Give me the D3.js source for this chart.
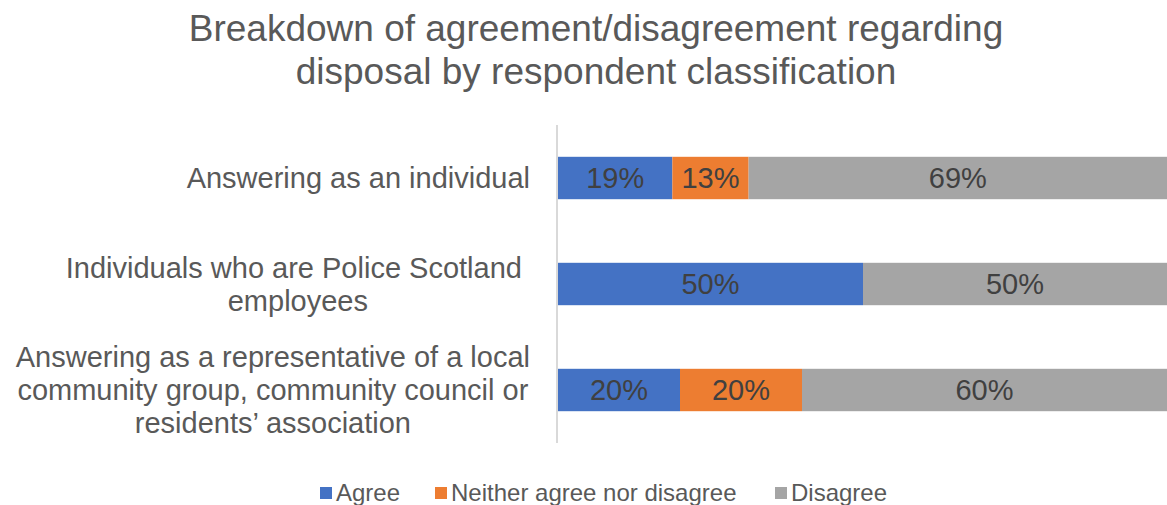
<!DOCTYPE html>
<html>
<head>
<meta charset="utf-8">
<script src="https://cdn.jsdelivr.net/npm/d3@7.9.0/dist/d3.min.js"></script>
<style>
  body { margin: 0; background: #fff; }
  svg { font-family: "Liberation Sans", Arial, sans-serif; }
</style>
</head>
<body>
<svg width="1167" height="505"></svg>
<script>
// chart data
const categories = [
  ["Answering as an individual"],
  ["Individuals who are Police Scotland ", "employees"],
  ["Answering as a representative of a local", "community group, community council or", "residents\u2019 association"]
];
const seriesNames = ["Agree", "Neither agree nor disagree", "Disagree"];
const agree = [0.1875, 0.5, 0.2];
const neither = [0.125, 0, 0.2];
const disagree = [0.6875, 0.5, 0.6];
const labels = [["19%", "13%", "69%"], ["50%", "", "50%"], ["20%", "20%", "60%"]];
const colors = ["#4472C4", "#ED7D31", "#A5A5A5"];

const svg = d3.select('svg');

// title
const title = svg.append('text')
  .attr('text-anchor', 'middle')
  .attr('fill', '#595959')
  .attr('font-size', 37);
title.append('tspan').attr('x', 596).attr('y', 41).text('Breakdown of agreement/disagreement regarding');
title.append('tspan').attr('x', 596).attr('y', 84).text('disposal by respondent classification');

let x = d3.scaleLinear().domain([0, 1]).range([558, 1168]);
let y = d3.scaleBand().domain(d3.range(categories.length)).range([125, 443]).paddingInner(0.6).paddingOuter(0.3);

// stack the series
let rows = categories.map((c, i) => ({ agree: agree[i], neither: neither[i], disagree: disagree[i] }));
let stacked = d3.stack().keys(['agree', 'neither', 'disagree'])(rows);

stacked.forEach((layer, s) => {
  layer.forEach((d, i) => {
    if (d[1] - d[0] <= 0) return;
    svg.append('rect')
      .attr('x', x(d[0]))
      .attr('y', y(i))
      .attr('width', x(d[1]) - x(d[0]))
      .attr('height', y.bandwidth())
      .attr('fill', colors[s]);
    svg.append('text')
      .attr('x', (x(d[0]) + Math.min(x(d[1]), 1167)) / 2)
      .attr('y', y(i) + y.bandwidth() / 2)
      .attr('dy', '0.35em')
      .attr('text-anchor', 'middle')
      .attr('font-size', 29)
      .attr('fill', '#404040')
      .text(labels[i][s]);
  });
});

// vertical axis line
svg.append('line')
  .attr('x1', 557).attr('x2', 557)
  .attr('y1', 125).attr('y2', 443)
  .attr('stroke', '#D9D9D9').attr('stroke-width', 2);

// category labels
categories.forEach((lines, i) => {
  let cy = y(i) + y.bandwidth() / 2;
  let lh = 33;
  let t = svg.append('text')
    .attr('text-anchor', 'middle')
    .attr('font-size', 29)
    .attr('fill', '#595959');
  lines.forEach((l, j) => {
    t.append('tspan')
      .attr('y', cy + (j - (lines.length - 1) / 2) * lh)
      .attr('dy', '0.35em')
      .text(l);
  });
  // right-align block, center lines within it
  let widths = [];
  t.selectAll('tspan').each(function () { widths.push(this.getComputedTextLength()); });
  let maxW = d3.max(widths);
  t.selectAll('tspan').attr('x', 530 - maxW / 2);
});

// legend
const legendX = [320, 435, 775];
seriesNames.forEach((name, i) => {
  svg.append('rect')
    .attr('x', legendX[i]).attr('y', 487)
    .attr('width', 12).attr('height', 12)
    .attr('fill', colors[i]);
  svg.append('text')
    .attr('x', legendX[i] + 16).attr('y', 493)
    .attr('dy', '0.35em')
    .attr('font-size', 24)
    .attr('fill', '#595959')
    .text(name);
});
</script>
</body>
</html>
